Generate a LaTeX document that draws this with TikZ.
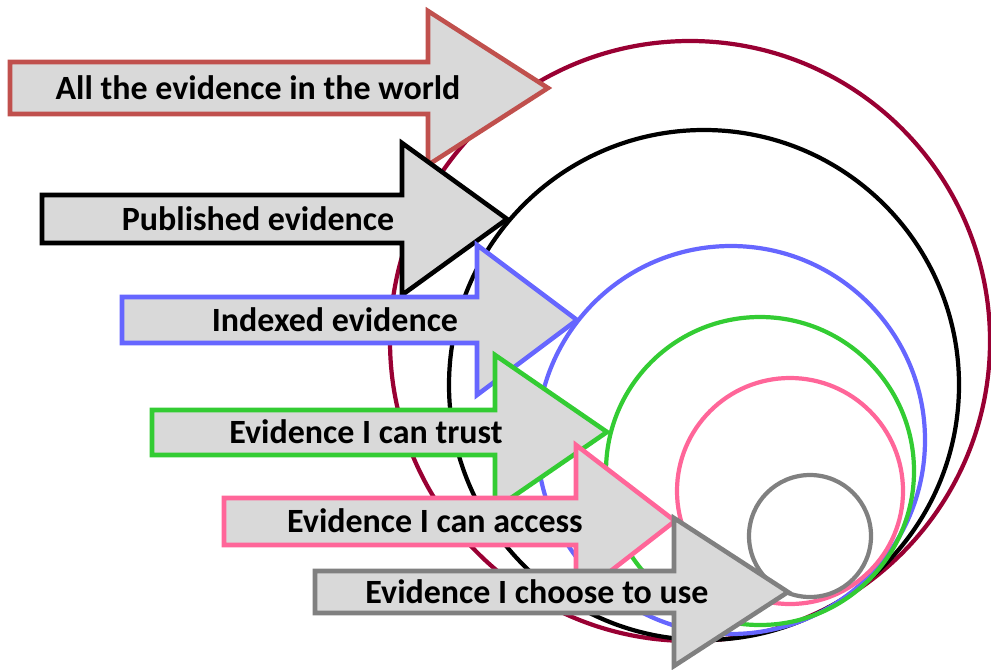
\documentclass[tikz,border=0pt]{standalone}
\usepackage{fontspec}
\setmainfont{Carlito}
\usepackage{tikz}

\definecolor{worldred}{HTML}{C0504D}
\definecolor{maroonring}{HTML}{990033}
\definecolor{indexblue}{HTML}{6666FF}
\definecolor{trustgreen}{HTML}{33CC33}
\definecolor{accesspink}{HTML}{FF6699}
\definecolor{usegray}{HTML}{808080}
\definecolor{boxfill}{HTML}{D9D9D9}

\begin{document}
\begin{tikzpicture}[x=0.03cm,y=-0.03cm,
  ring/.style={line width=3.6pt},
  bigarrow/.style={line width=3.9pt,fill=boxfill,line join=miter},
  label/.style={font=\bfseries\fontsize{29}{32}\selectfont,inner sep=0pt}]
\useasboundingbox (0,0) rectangle (991,669);

% nested rings, all touching near the bottom
\draw[ring,maroonring] (690,341) circle (300);
\draw[ring,black] (704,385) circle (255);
\draw[ring,indexblue] (731,440) circle (194);
\draw[ring,trustgreen] (760,471) circle (154);
\draw[ring,accesspink] (790,491) circle (113);
\draw[ring,usegray] (810,536) circle (61);

% block arrows, each one drawn over the one before
\draw[bigarrow,draw=worldred] (10,62) -- (428,62) -- (428,11) -- (548,88) -- (428,165) -- (428,114) -- (10,114) -- cycle;
\node[label] (world) at (258,88) {All the evidence in the world};

\draw[bigarrow,draw=black] (42,195) -- (402,195) -- (402,143) -- (507,219) -- (402,295) -- (402,243) -- (42,243) -- cycle;
\node[label] (published) at (258,219) {Published evidence};

\draw[bigarrow,draw=indexblue] (122,297) -- (477,297) -- (477,245) -- (577,320) -- (477,395) -- (477,343) -- (122,343) -- cycle;
\node[label] (indexed) at (335,320) {Indexed evidence};

\draw[bigarrow,draw=trustgreen] (152,410) -- (495,410) -- (495,355) -- (607,432) -- (495,509) -- (495,455) -- (152,455) -- cycle;
\node[label] (trust) at (366,432) {Evidence I can trust};

\draw[bigarrow,draw=accesspink] (224,498) -- (576,498) -- (576,445) -- (675,521) -- (576,598) -- (576,545) -- (224,545) -- cycle;
\node[label] (access) at (435,521) {Evidence I can access};

\draw[bigarrow,draw=usegray] (315,571) -- (674,571) -- (674,518) -- (788,592) -- (674,666) -- (674,613) -- (315,613) -- cycle;
\node[label] (use) at (537,592) {Evidence I choose to use};
\end{tikzpicture}
\end{document}
